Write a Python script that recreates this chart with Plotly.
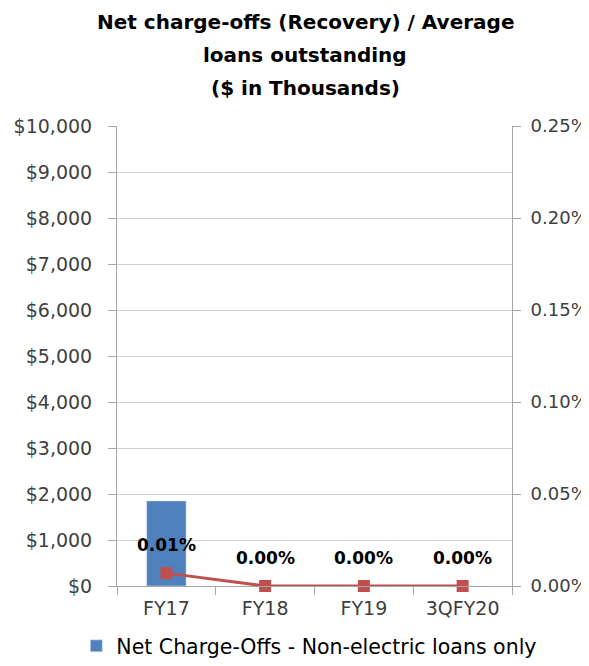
import plotly.graph_objects as go

periodos = ["FY17", "FY18", "FY19", "3QFY20"]
net_charge_offs = [1850, 0, 0, 0]
ratio_pct = [0.007, 0.0, 0.0, 0.0]
ratio_labels = ["0.01%", "0.00%", "0.00%", "0.00%"]

left_ticks = list(range(0, 10001, 1000))
right_ticks = [0, 0.05, 0.10, 0.15, 0.20, 0.25]

title_lines = ["Net charge-offs (Recovery) / Average", "loans outstanding", "($ in Thousands)"]

font = "DejaVu Sans, sans-serif"

fig = go.Figure()

fig.add_trace(go.Bar(
    x=periodos,
    y=net_charge_offs,
    name="Net Charge-Offs - Non-electric loans only",
    marker=dict(color="#4F81BD"),
    width=0.4,
    yaxis="y",
))

fig.add_trace(go.Scatter(
    x=periodos,
    y=ratio_pct,
    mode="lines+markers",
    line=dict(color="#C0504D", width=3),
    marker=dict(symbol="square", size=12, color="#C0504D"),
    showlegend=False,
    yaxis="y2",
    cliponaxis=False,
))

# etiquetas de datos, algo por encima de los marcadores
for p, v, lab in zip(periodos, ratio_pct, ratio_labels):
    fig.add_annotation(
        x=p, y=v, xref="x", yref="y2",
        text=lab, showarrow=False, yshift=28,
        font=dict(family=font, size=17, color="#000000", weight="bold"),
    )

# titulo en tres lineas separadas para controlar el interlineado
for i, linea in enumerate(title_lines):
    fig.add_annotation(
        text=linea,
        xref="paper", yref="paper",
        x=0.476, y=1.226 - i * 0.0717,
        xanchor="center", yanchor="middle",
        showarrow=False,
        font=dict(family=font, size=20, color="#000000", weight="bold"),
    )

axis_common = dict(
    showgrid=False,
    zeroline=False,
    showline=True,
    linecolor="#A6A6A6",
    linewidth=1,
    ticks="outside",
    ticklen=8,
    tickcolor="#A6A6A6",
    tickfont=dict(family=font, size=19, color="#404040"),
    automargin=False,
)

# la pagina tiene 8 px de margen en el body: se compensa en tamano y margenes
fig.update_layout(
    width=581,
    height=658,
    paper_bgcolor="white",
    plot_bgcolor="white",
    margin=dict(l=109, r=77, t=118, b=80),
    xaxis=dict(
        **axis_common,
        tickson="boundaries",
        ticklabelstandoff=5,
    ),
    yaxis=dict(
        **axis_common,
        range=[0, 10000],
        tickvals=left_ticks,
        ticktext=[f"${v:,}" for v in left_ticks],
        ticklabelstandoff=12,
    ),
    yaxis2=dict(
        **axis_common,
        overlaying="y",
        side="right",
        range=[0, 0.25],
        tickvals=right_ticks,
        ticktext=[f"{v:.2f}%" for v in right_ticks],
        ticklabelstandoff=6,
    ),
    legend=dict(
        orientation="h",
        x=-0.103,
        xanchor="left",
        yref="container",
        y=-0.008,
        yanchor="bottom",
        font=dict(family=font, size=20.5, color="#000000"),
        itemwidth=30,
    ),
    showlegend=True,
)
fig.layout.yaxis.showgrid = True
fig.layout.yaxis.gridcolor = "#D0D0D0"
fig.layout.yaxis2.tickfont.size = 18

fig.write_html("out.html")
